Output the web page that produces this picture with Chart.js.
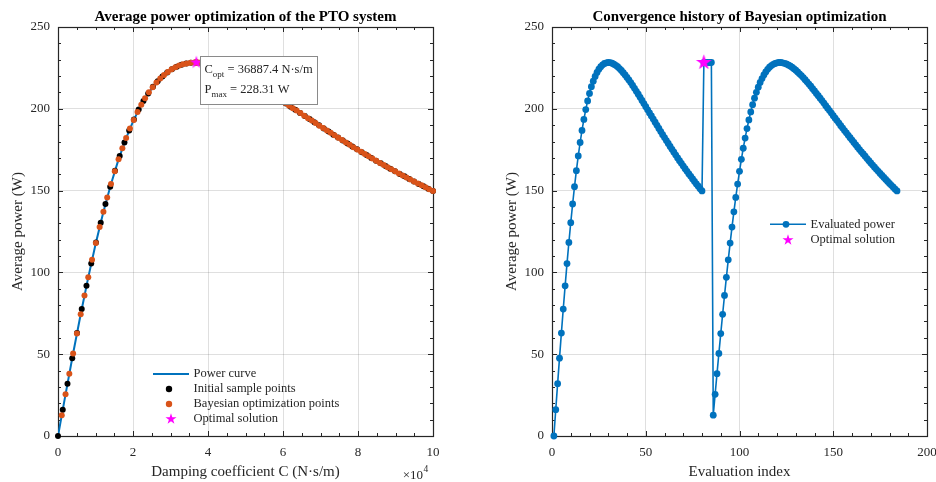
<!DOCTYPE html>
<html>
<head>
<meta charset="utf-8">
<script src="https://cdn.jsdelivr.net/npm/chart.js@4.4.1/dist/chart.umd.min.js"></script>
<style>
  html, body { margin: 0; padding: 0; background: #fff; }
  #wrap { position: relative; width: 936px; height: 482px; }
  canvas { position: absolute; top: 0; }
</style>
</head>
<body>
<div id="wrap">
  <canvas id="left" width="468" height="482" style="left:0"></canvas>
  <canvas id="right" width="468" height="482" style="left:468px"></canvas>
</div>
<script>
// ---- data ----
// smooth power curve, C in N·s/m
const curveC = [0, 2000, 4000, 6000, 8000, 10000, 12000, 14000, 16000, 18000,
  20000, 22000, 24000, 26000, 28000, 30000, 32000, 34000, 36000, 38000,
  40000, 42000, 44000, 46000, 48000, 50000, 52000, 54000, 56000, 58000,
  60000, 62000, 64000, 66000, 68000, 70000, 72000, 74000, 76000, 78000,
  80000, 82000, 84000, 86000, 88000, 90000, 92000, 94000, 96000, 98000, 100000];
const curveP = [0, 25.3, 50.1, 73.8, 96.2, 117.0, 136.0, 153.0, 168.0, 181.1,
  192.2, 201.6, 209.3, 215.4, 220.1, 223.7, 226.1, 227.6, 228.2, 228.2,
  227.6, 226.5, 224.9, 223.0, 220.8, 218.4, 215.8, 213.1, 210.3, 207.3,
  204.4, 201.4, 198.3, 195.3, 192.3, 189.3, 186.3, 183.4, 180.5, 177.7,
  174.9, 172.1, 169.4, 166.8, 164.2, 161.6, 159.2, 156.7, 154.4, 152.1, 149.8];

// initial samples (evaluations 1..80)
const initC = [0, 1266, 2532, 3797, 5063, 6329, 7595, 8861, 10127, 11392,
  12658, 13924, 15190, 16456, 17722, 18987, 20253, 21519, 22785, 24051,
  25316, 26582, 27848, 29114, 30380, 31646, 32911, 34177, 35443, 36709,
  37975, 39241, 40506, 41772, 43038, 44304, 45570, 46835, 48101, 49367,
  50633, 51899, 53165, 54430, 55696, 56962, 58228, 59494, 60759, 62025,
  63291, 64557, 65823, 67089, 68354, 69620, 70886, 72152, 73418, 74684,
  75949, 77215, 78481, 79747, 81013, 82278, 83544, 84810, 86076, 87342,
  88608, 89873, 91139, 92405, 93671, 94937, 96203, 97468, 98734, 100000];
const initP = [0, 16.1, 32.0, 47.6, 62.9, 77.6, 91.8, 105.4, 118.3, 130.4,
  141.8, 152.4, 162.2, 171.2, 179.4, 186.8, 193.5, 199.5, 204.8, 209.4,
  213.5, 216.9, 219.8, 222.2, 224.2, 225.7, 226.9, 227.7, 228.1, 228.3,
  228.2, 227.9, 227.3, 226.6, 225.7, 224.6, 223.4, 222.1, 220.7, 219.2,
  217.6, 216.0, 214.3, 212.5, 210.7, 208.9, 207.0, 205.1, 203.2, 201.3,
  199.4, 197.5, 195.6, 193.7, 191.8, 189.9, 188.0, 186.1, 184.2, 182.4,
  180.6, 178.8, 177.0, 175.2, 173.5, 171.7, 170.0, 168.3, 166.7, 165.0,
  163.4, 161.8, 160.2, 158.7, 157.1, 155.6, 154.1, 152.7, 151.2, 149.8];

// bayesian optimization points (evaluations 81..184)
const bayesC = [36887, 36912, 36861, 36895, 36874,
  1000, 2010, 3020, 4031, 5041, 6051, 7061, 8071, 9082, 10092,
  11102, 12112, 13122, 14133, 15143, 16153, 17163, 18173, 19184, 20194,
  21204, 22214, 23224, 24235, 25245, 26255, 27265, 28275, 29286, 30296,
  31306, 32316, 33326, 34337, 35347, 36357, 37367, 38377, 39388, 40398,
  41408, 42418, 43428, 44439, 45449, 46459, 47469, 48479, 49490, 50500,
  51510, 52520, 53530, 54541, 55551, 56561, 57571, 58581, 59592, 60602,
  61612, 62622, 63632, 64643, 65653, 66663, 67673, 68683, 69694, 70704,
  71714, 72724, 73734, 74745, 75755, 76765, 77775, 78785, 79796, 80806,
  81816, 82826, 83836, 84847, 85857, 86867, 87877, 88887, 89898, 90908,
  91918, 92928, 93938, 94949, 95959, 96969, 97979, 98989, 100000];
const bayesP = [228.31, 228.31, 228.31, 228.31, 228.31,
  12.7, 25.5, 38.1, 50.5, 62.6, 74.4, 85.9, 97.0, 107.7, 117.9,
  127.7, 137.0, 145.8, 154.0, 161.8, 169.1, 175.9, 182.1, 187.9, 193.2,
  198.1, 202.5, 206.5, 210.1, 213.2, 216.1, 218.5, 220.7, 222.5, 224.1,
  225.4, 226.4, 227.2, 227.7, 228.1, 228.3, 228.3, 228.1, 227.8, 227.4,
  226.8, 226.2, 225.4, 224.5, 223.6, 222.5, 221.4, 220.3, 219.1, 217.8,
  216.5, 215.1, 213.8, 212.3, 210.9, 209.4, 208.0, 206.5, 205.0, 203.5,
  201.9, 200.4, 198.9, 197.4, 195.8, 194.3, 192.8, 191.3, 189.7, 188.2,
  186.7, 185.3, 183.8, 182.3, 180.9, 179.4, 178.0, 176.5, 175.1, 173.7,
  172.4, 171.0, 169.6, 168.3, 166.9, 165.6, 164.3, 163.0, 161.8, 160.5,
  159.3, 158.0, 156.8, 155.6, 154.4, 153.2, 152.1, 150.9, 149.8];

const optC = 36887.4;
const optP = 228.31;
const optIndex = 81;

// evaluation history = initial samples then BO points, in order
const evalPower = initP.concat(bayesP);

// ---- styling ----
const FONT = '"Liberation Serif", "Times New Roman", serif';
const INK = '#262626';
const GRID = 'rgba(38,38,38,0.15)';
const BLUE = '#0072BD', ORANGE = '#D95319', MAGENTA = '#FF00FF';

function starPath(g, cx, cy, R) {
  const r = R * 0.382;
  g.beginPath();
  for (let i = 0; i < 10; i++) {
    const a = -Math.PI / 2 + i * Math.PI / 5;
    const rad = i % 2 ? r : R;
    g.lineTo(cx + rad * Math.cos(a), cy + rad * Math.sin(a));
  }
  g.closePath();
}

function starImage(R) {
  const s = Math.ceil(R * 2 + 2);
  const c = document.createElement('canvas');
  c.width = s; c.height = s;
  const g = c.getContext('2d');
  starPath(g, s / 2, s / 2, R);
  g.fillStyle = MAGENTA;
  g.fill();
  return c;
}

// box, inward ticks, title, legend, text box
const deco = {
  id: 'deco',
  beforeDatasetsDraw(chart, args, o) {
    const { ctx, chartArea: a, scales: { x, y } } = chart;
    ctx.save();
    ctx.strokeStyle = INK;
    ctx.lineWidth = 1;
    ctx.beginPath();
    const nx = Math.round((x.max - x.min) / o.xMinor);
    for (let i = 0; i <= nx; i++) {
      const p = Math.round(x.getPixelForValue(x.min + i * o.xMinor)) + 0.5;
      const L = i % o.xEvery === 0 ? 5 : 3;
      ctx.moveTo(p, a.bottom); ctx.lineTo(p, a.bottom - L);
      ctx.moveTo(p, a.top); ctx.lineTo(p, a.top + L);
    }
    const ny = Math.round((y.max - y.min) / o.yMinor);
    for (let i = 0; i <= ny; i++) {
      const p = Math.round(y.getPixelForValue(y.min + i * o.yMinor)) + 0.5;
      const L = i % o.yEvery === 0 ? 5 : 3;
      ctx.moveTo(a.left, p); ctx.lineTo(a.left + L, p);
      ctx.moveTo(a.right, p); ctx.lineTo(a.right - L, p);
    }
    ctx.stroke();
    ctx.lineWidth = 1.2;
    ctx.strokeRect(Math.round(a.left) + 0.5, Math.round(a.top) + 0.5,
      Math.round(a.width), Math.round(a.height));
    ctx.restore();
  },
  afterDraw(chart, args, o) {
    const { ctx, chartArea: a, scales: { x, y } } = chart;
    ctx.save();
    ctx.fillStyle = '#000';
    ctx.font = 'bold 15px ' + FONT;
    ctx.textAlign = 'center';
    ctx.textBaseline = 'middle';
    ctx.fillText(o.title, (a.left + a.right) / 2, 17.5);

    // legend
    const lg = o.legend;
    ctx.font = '12.5px ' + FONT;
    ctx.textAlign = 'left';
    lg.items.forEach((it, i) => {
      const yy = lg.y + i * lg.dy;
      const x0 = lg.x, x1 = lg.x + 36, xm = (x0 + x1) / 2;
      if (it.kind === 'line' || it.kind === 'linedot') {
        ctx.strokeStyle = BLUE;
        ctx.lineWidth = it.kind === 'line' ? 2 : 1.6;
        ctx.beginPath(); ctx.moveTo(x0, yy); ctx.lineTo(x1, yy); ctx.stroke();
      }
      if (it.kind === 'dot' || it.kind === 'linedot') {
        ctx.fillStyle = it.color;
        ctx.beginPath(); ctx.arc(xm - 2, yy, it.r, 0, Math.PI * 2); ctx.fill();
      }
      if (it.kind === 'star') {
        ctx.fillStyle = MAGENTA;
        starPath(ctx, xm, yy, 5.8); ctx.fill();
      }
      ctx.fillStyle = INK;
      ctx.fillText(it.label, x1 + 4.5, yy);
    });

    // optimum text box
    if (o.note) {
      const sx = x.getPixelForValue(optC), sy = y.getPixelForValue(optP);
      const rows = [['C', 'opt', ' = ' + optC.toFixed(1) + ' N\u00b7s/m'],
                    ['P', 'max', ' = ' + optP.toFixed(2) + ' W']];
      const big = '12.5px ' + FONT, small = '9px ' + FONT;
      const widthOf = (r) => {
        ctx.font = big; let w = ctx.measureText(r[0]).width + ctx.measureText(r[2]).width;
        ctx.font = small; w += ctx.measureText(r[1]).width;
        return w;
      };
      const bw = Math.round(Math.max(...rows.map(widthOf)) + 9);
      const bx = Math.round(sx + 4) + 0.5, by = Math.round(sy - 6) + 0.5;
      ctx.fillStyle = '#fff';
      ctx.fillRect(bx, by, bw, 48);
      ctx.strokeStyle = '#8a8a8a'; ctx.lineWidth = 1;
      ctx.strokeRect(bx, by, bw, 48);
      rows.forEach((r, i) => {
        let tx = bx + 4;
        const ty = by + 13 + i * 20;
        ctx.fillStyle = INK;
        ctx.font = big; ctx.fillText(r[0], tx, ty); tx += ctx.measureText(r[0]).width;
        ctx.font = small; ctx.fillText(r[1], tx, ty + 5); tx += ctx.measureText(r[1]).width;
        ctx.font = big; ctx.fillText(r[2], tx, ty);
      });
    }

    // axis exponent
    if (o.exponent) {
      ctx.fillStyle = INK;
      ctx.font = '13px ' + FONT;
      ctx.textAlign = 'right';
      ctx.fillText('\u00d710', a.right - 10, 476);
      ctx.font = '9.5px ' + FONT;
      ctx.textAlign = 'left';
      ctx.fillText('4', a.right - 9.5, 469.5);
    }
    ctx.restore();
  }
};

function scalesFor(cfg) {
  const tickFont = { family: FONT, size: 13 };
  const titleFont = { family: FONT, size: 15 };
  return {
    x: {
      type: 'linear', min: 0, max: cfg.xMax,
      ticks: { stepSize: cfg.xStep, padding: 9, color: INK, font: tickFont,
               maxRotation: 0, autoSkip: false, callback: cfg.xCb },
      grid: { color: GRID, drawTicks: false },
      border: { display: false },
      title: { display: true, text: cfg.xLabel, color: INK, font: titleFont,
               padding: { top: 0, bottom: 1 } },
      afterFit(s) { s.height = 46; s.paddingLeft = 0; s.paddingRight = 0; }
    },
    y: {
      type: 'linear', min: 0, max: 250,
      ticks: { stepSize: 50, padding: 8, color: INK, font: tickFont },
      grid: { color: GRID, drawTicks: false },
      border: { display: false },
      title: { display: true, text: 'Average power (W)', color: INK, font: titleFont,
               padding: { top: cfg.yTitlePad, bottom: 0 } },
      afterFit(s) { s.width = cfg.yWidth; s.paddingTop = 0; s.paddingBottom = 0; }
    }
  };
}

const common = {
  responsive: false,
  animation: false,
  events: [],
  plugins: { legend: { display: false }, tooltip: { enabled: false } }
};

// ---- left: power curve ----
new Chart(document.getElementById('left'), {
  type: 'scatter',
  data: {
    datasets: [
      { label: 'Optimal solution', data: [{ x: optC, y: optP }], order: 0, clip: false,
        pointStyle: starImage(6.8), pointRadius: 5 },
      { label: 'Bayesian optimization points', order: 1, clip: false,
        data: bayesC.map((c, i) => ({ x: c, y: bayesP[i] })),
        pointRadius: 3, pointBorderWidth: 0, pointBackgroundColor: ORANGE },
      { label: 'Initial sample points', order: 2, clip: false,
        data: initC.map((c, i) => ({ x: c, y: initP[i] })),
        pointRadius: 3, pointBorderWidth: 0, pointBackgroundColor: '#000' },
      { label: 'Power curve', order: 3, showLine: true, pointRadius: 0,
        data: curveC.map((c, i) => ({ x: c, y: curveP[i] })),
        borderColor: BLUE, borderWidth: 2 }
    ]
  },
  options: Object.assign({}, common, {
    layout: { padding: { top: 27, right: 35, left: 0, bottom: 0 } },
    scales: scalesFor({ xMax: 100000, xStep: 20000, xCb: (v) => v / 10000,
      xLabel: 'Damping coefficient C (N\u00b7s/m)', yWidth: 58, yTitlePad: 9 }),
    plugins: Object.assign({}, common.plugins, {
      deco: {
        title: 'Average power optimization of the PTO system',
        xMinor: 5000, xEvery: 4, yMinor: 10, yEvery: 5,
        note: true, exponent: true,
        legend: { x: 153, y: 374, dy: 15, items: [
          { kind: 'line', label: 'Power curve' },
          { kind: 'dot', color: '#000', r: 3.2, label: 'Initial sample points' },
          { kind: 'dot', color: ORANGE, r: 3.2, label: 'Bayesian optimization points' },
          { kind: 'star', label: 'Optimal solution' }
        ] }
      }
    })
  }),
  plugins: [deco]
});

// ---- right: convergence history ----
new Chart(document.getElementById('right'), {
  type: 'scatter',
  data: {
    datasets: [
      { label: 'Optimal solution', data: [{ x: optIndex, y: optP }], order: 0, clip: false,
        pointStyle: starImage(8.3), pointRadius: 5 },
      { label: 'Evaluated power', order: 1, clip: false, showLine: true,
        data: evalPower.map((p, i) => ({ x: i + 1, y: p })),
        borderColor: BLUE, borderWidth: 1.6,
        pointRadius: 3.4, pointBorderWidth: 0, pointBackgroundColor: BLUE }
    ]
  },
  options: Object.assign({}, common, {
    layout: { padding: { top: 27, right: 9, left: 0, bottom: 0 } },
    scales: scalesFor({ xMax: 200, xStep: 50, xLabel: 'Evaluation index',
      yWidth: 84, yTitlePad: 35 }),
    plugins: Object.assign({}, common.plugins, {
      deco: {
        title: 'Convergence history of Bayesian optimization',
        xMinor: 10, xEvery: 5, yMinor: 10, yEvery: 5,
        note: false, exponent: false,
        legend: { x: 302, y: 224.3, dy: 15.7, items: [
          { kind: 'linedot', color: BLUE, r: 3.4, label: 'Evaluated power' },
          { kind: 'star', label: 'Optimal solution' }
        ] }
      }
    })
  }),
  plugins: [deco]
});
</script>
</body>
</html>
